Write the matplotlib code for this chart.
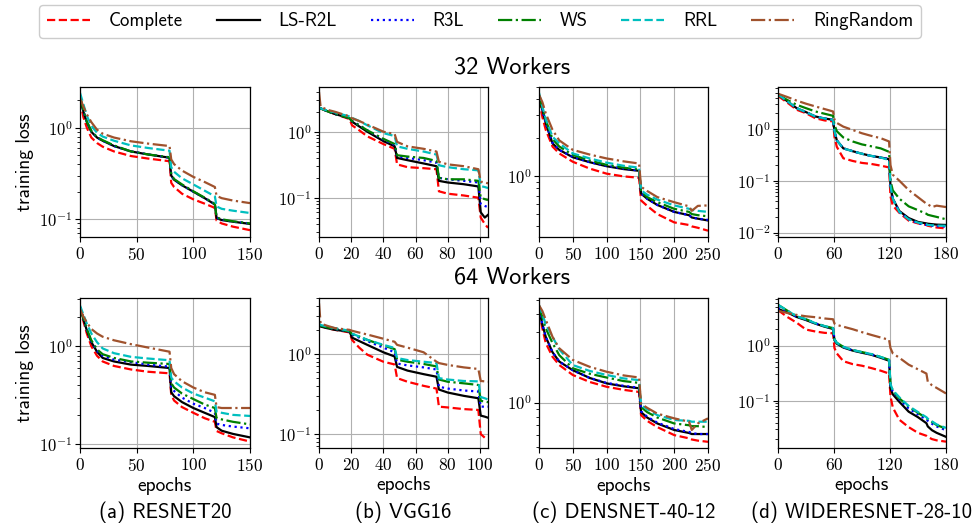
import math
import matplotlib
matplotlib.use("Agg")
import matplotlib.pyplot as plt
from matplotlib.ticker import FuncFormatter, NullFormatter, LogLocator, FixedLocator

plt.rcParams['font.family'] = ['cmss10', 'DejaVu Sans']
plt.rcParams['mathtext.fontset'] = 'cm'
plt.rcParams['axes.unicode_minus'] = True

METHODS = ["Complete", "LS-R2L", "R3L", "WS", "RRL", "RingRandom"]
COLORS = ["#ff0000", "#000000", "#0000ff", "#008000", "#00bfbf", "#a0522d"]
STYLES = ["--", "-", ":", "-.", "--", "-."]
CAPTIONS = ["(a) RESNET20", "(b) VGG16", "(c) DENSNET-40-12", "(d) WIDERESNET-28-10"]
ROW_TITLES = ["32 Workers", "64 Workers"]

# ---------------- RESNET20 ----------------
EP_RN = [0, 3, 6, 10, 15, 20, 30, 45, 60, 79, 80.5, 83, 90, 100, 110, 119, 120.5, 125, 135, 150]
RN_32_COMPLETE = [2.0, 1.3, 1.0, 0.78, 0.68, 0.62, 0.55, 0.49, 0.46, 0.43, 0.25, 0.225, 0.19, 0.165, 0.148, 0.133, 0.097, 0.09, 0.083, 0.076]
RN_32_LSR2L = [2.2, 1.5, 1.15, 0.9, 0.78, 0.72, 0.63, 0.55, 0.51, 0.47, 0.30, 0.27, 0.235, 0.2, 0.17, 0.145, 0.103, 0.098, 0.094, 0.089]
RN_32_R3L = [2.2, 1.5, 1.16, 0.91, 0.78, 0.72, 0.63, 0.55, 0.51, 0.47, 0.30, 0.27, 0.236, 0.2, 0.17, 0.146, 0.104, 0.099, 0.094, 0.09]
RN_32_WS = [2.2, 1.52, 1.17, 0.92, 0.79, 0.73, 0.64, 0.55, 0.51, 0.475, 0.31, 0.275, 0.24, 0.202, 0.172, 0.147, 0.105, 0.1, 0.095, 0.09]
RN_32_RRL = [2.4, 1.8, 1.35, 1.05, 0.88, 0.8, 0.72, 0.64, 0.6, 0.56, 0.37, 0.33, 0.28, 0.24, 0.205, 0.178, 0.138, 0.13, 0.124, 0.117]
RN_32_RINGRANDOM = [2.1, 1.7, 1.4, 1.15, 0.95, 0.86, 0.78, 0.71, 0.67, 0.63, 0.45, 0.40, 0.34, 0.29, 0.255, 0.225, 0.18, 0.17, 0.16, 0.15]

RN_64_COMPLETE = [2.5, 1.8, 1.35, 1.0, 0.8, 0.7, 0.63, 0.58, 0.55, 0.53, 0.32, 0.28, 0.24, 0.21, 0.185, 0.17, 0.137, 0.13, 0.118, 0.107]
RN_64_LSR2L = [2.5, 1.9, 1.45, 1.1, 0.88, 0.76, 0.7, 0.65, 0.63, 0.6, 0.34, 0.31, 0.27, 0.235, 0.21, 0.19, 0.15, 0.138, 0.128, 0.118]
RN_64_R3L = [2.5, 1.9, 1.47, 1.12, 0.9, 0.8, 0.73, 0.69, 0.65, 0.62, 0.38, 0.35, 0.3, 0.26, 0.235, 0.21, 0.163, 0.158, 0.152, 0.146]
RN_64_WS = [2.5, 1.92, 1.5, 1.15, 0.93, 0.83, 0.76, 0.7, 0.68, 0.66, 0.42, 0.38, 0.33, 0.29, 0.255, 0.235, 0.185, 0.18, 0.17, 0.16]
RN_64_RRL = [2.6, 2.1, 1.7, 1.35, 1.1, 0.95, 0.85, 0.78, 0.75, 0.72, 0.48, 0.44, 0.38, 0.33, 0.3, 0.275, 0.215, 0.21, 0.2, 0.195]
RN_64_RINGRANDOM = [2.4, 2.0, 1.75, 1.5, 1.35, 1.25, 1.15, 1.05, 0.97, 0.88, 0.6, 0.52, 0.44, 0.38, 0.34, 0.32, 0.24, 0.235, 0.235, 0.235]

# ---------------- VGG16 ----------------
EP_VGG = [0, 1, 5, 10, 19, 20.5, 25, 30, 40, 47, 48.5, 55, 65, 73, 74.5, 80, 90, 99, 100.5, 103, 105]
VGG_32_COMPLETE = [2.3, 2.25, 2.05, 1.85, 1.55, 1.25, 1.05, 0.85, 0.65, 0.55, 0.32, 0.29, 0.28, 0.27, 0.125, 0.115, 0.108, 0.1, 0.05, 0.04, 0.035]
VGG_32_LSR2L = [2.3, 2.25, 2.05, 1.85, 1.6, 1.42, 1.2, 1.0, 0.72, 0.6, 0.4, 0.37, 0.33, 0.3, 0.18, 0.17, 0.16, 0.148, 0.06, 0.05, 0.055]
VGG_32_R3L = [2.3, 2.25, 2.05, 1.85, 1.6, 1.45, 1.25, 1.05, 0.76, 0.63, 0.42, 0.4, 0.37, 0.34, 0.2, 0.19, 0.18, 0.17, 0.08, 0.075, 0.072]
VGG_32_WS = [2.3, 2.25, 2.05, 1.85, 1.6, 1.45, 1.25, 1.05, 0.78, 0.65, 0.44, 0.42, 0.4, 0.36, 0.2, 0.19, 0.19, 0.18, 0.1, 0.095, 0.092]
VGG_32_RRL = [2.3, 2.25, 2.1, 1.95, 1.7, 1.62, 1.45, 1.25, 0.95, 0.86, 0.6, 0.55, 0.5, 0.45, 0.31, 0.29, 0.27, 0.26, 0.15, 0.145, 0.14]
VGG_32_RINGRANDOM = [4.0, 2.4, 2.15, 2.0, 1.7, 1.6, 1.45, 1.28, 1.0, 0.92, 0.7, 0.6, 0.55, 0.5, 0.35, 0.32, 0.3, 0.27, 0.175, 0.17, 0.165]

VGG_64_COMPLETE = [2.3, 2.25, 2.1, 2.0, 1.86, 1.5, 1.2, 0.98, 0.8, 0.74, 0.5, 0.45, 0.4, 0.37, 0.22, 0.215, 0.205, 0.2, 0.1, 0.09, 0.087]
VGG_64_LSR2L = [2.3, 2.2, 2.1, 2.0, 1.9, 1.6, 1.45, 1.3, 1.05, 0.93, 0.69, 0.62, 0.56, 0.52, 0.36, 0.33, 0.3, 0.28, 0.17, 0.165, 0.16]
VGG_64_R3L = [2.3, 2.25, 2.15, 2.05, 1.9, 1.75, 1.6, 1.45, 1.2, 1.05, 0.76, 0.72, 0.68, 0.64, 0.39, 0.37, 0.35, 0.34, 0.22, 0.22, 0.22]
VGG_64_WS = [2.3, 2.25, 2.15, 2.05, 1.92, 1.78, 1.65, 1.5, 1.28, 1.15, 0.85, 0.8, 0.75, 0.7, 0.48, 0.45, 0.43, 0.41, 0.26, 0.255, 0.25]
VGG_64_RRL = [2.4, 2.3, 2.2, 2.1, 1.95, 1.8, 1.65, 1.5, 1.3, 1.19, 0.89, 0.84, 0.8, 0.77, 0.5, 0.48, 0.46, 0.455, 0.29, 0.28, 0.27]
VGG_64_RINGRANDOM = [4.3, 2.4, 2.25, 2.1, 2.0, 1.95, 1.85, 1.75, 1.55, 1.42, 1.3, 1.2, 1.05, 0.8, 0.77, 0.73, 0.68, 0.65, 0.46, 0.455, 0.45]

# ---------------- DENSENET-40-12 ----------------
EP_DN = [0, 5, 10, 20, 30, 50, 75, 100, 125, 148, 151, 160, 175, 200, 222, 226, 235, 250]
DN_32_COMPLETE = [3.97, 2.9, 2.3, 1.7, 1.5, 1.29, 1.14, 1.04, 0.99, 0.965, 0.64, 0.58, 0.5, 0.43, 0.41, 0.4, 0.39, 0.37]
DN_32_LSR2L = [4.2, 3.3, 2.6, 1.8, 1.6, 1.4, 1.28, 1.19, 1.13, 1.095, 0.725, 0.66, 0.59, 0.52, 0.49, 0.47, 0.46, 0.445]
DN_32_R3L = [4.2, 3.3, 2.6, 1.82, 1.6, 1.41, 1.28, 1.2, 1.14, 1.1, 0.73, 0.66, 0.59, 0.52, 0.49, 0.47, 0.46, 0.45]
DN_32_WS = [4.3, 3.4, 2.75, 1.95, 1.7, 1.46, 1.32, 1.22, 1.16, 1.12, 0.75, 0.68, 0.62, 0.55, 0.52, 0.5, 0.49, 0.48]
DN_32_RRL = [4.5, 3.5, 2.8, 2.03, 1.8, 1.5, 1.37, 1.27, 1.2, 1.16, 0.77, 0.71, 0.65, 0.585, 0.55, 0.54, 0.53, 0.52]
DN_32_RINGRANDOM = [4.35, 3.8, 3.1, 2.3, 1.9, 1.6, 1.47, 1.37, 1.3, 1.25, 0.82, 0.76, 0.68, 0.62, 0.575, 0.53, 0.58, 0.585]

DN_64_COMPLETE = [4.2, 3.2, 2.54, 2.05, 1.8, 1.54, 1.38, 1.28, 1.22, 1.18, 0.82, 0.75, 0.68, 0.6, 0.57, 0.56, 0.55, 0.54]
DN_64_LSR2L = [4.3, 3.4, 2.8, 2.2, 1.9, 1.66, 1.47, 1.35, 1.29, 1.25, 0.86, 0.79, 0.72, 0.65, 0.62, 0.61, 0.61, 0.61]
DN_64_R3L = [4.3, 3.4, 2.8, 2.2, 1.9, 1.66, 1.47, 1.36, 1.3, 1.26, 0.87, 0.8, 0.73, 0.66, 0.63, 0.62, 0.61, 0.61]
DN_64_WS = [4.5, 3.8, 3.2, 2.54, 2.1, 1.71, 1.57, 1.48, 1.4, 1.36, 0.93, 0.86, 0.79, 0.72, 0.7, 0.69, 0.69, 0.68]
DN_64_RRL = [4.6, 4.0, 3.4, 2.8, 2.3, 1.8, 1.64, 1.54, 1.46, 1.42, 0.96, 0.9, 0.82, 0.76, 0.75, 0.74, 0.74, 0.74]
DN_64_RINGRANDOM = [4.6, 4.2, 3.66, 2.8, 2.34, 1.95, 1.75, 1.62, 1.53, 1.48, 0.98, 0.92, 0.84, 0.78, 0.74, 0.65, 0.72, 0.78]

# ---------------- WIDERESNET-28-10 ----------------
EP_WR = [0, 10, 20, 30, 40, 50, 59, 60.5, 63, 70, 80, 90, 100, 110, 119, 120.5, 123, 130, 140, 150, 159, 160.5, 165, 170, 180]
WR_32_COMPLETE = [4.3, 3.2, 2.33, 2.0, 1.6, 1.45, 1.39, 0.7, 0.45, 0.27, 0.24, 0.22, 0.21, 0.195, 0.18, 0.05, 0.033, 0.024, 0.017, 0.015, 0.014, 0.0135, 0.013, 0.0125, 0.012]
WR_32_LSR2L = [4.6, 3.4, 2.5, 2.1, 1.73, 1.58, 1.49, 0.9, 0.6, 0.42, 0.37, 0.33, 0.3, 0.28, 0.26, 0.08, 0.045, 0.026, 0.019, 0.016, 0.015, 0.0148, 0.0145, 0.0142, 0.014]
WR_32_R3L = [4.6, 3.4, 2.5, 2.1, 1.73, 1.58, 1.49, 0.9, 0.6, 0.42, 0.37, 0.33, 0.3, 0.28, 0.26, 0.08, 0.045, 0.025, 0.018, 0.015, 0.014, 0.0138, 0.0135, 0.0133, 0.013]
WR_32_WS = [4.5, 3.6, 2.9, 2.5, 2.16, 1.95, 1.78, 1.2, 0.9, 0.68, 0.57, 0.5, 0.46, 0.42, 0.36, 0.1, 0.065, 0.045, 0.032, 0.027, 0.023, 0.022, 0.021, 0.02, 0.018]
WR_32_RRL = [4.6, 3.4, 2.5, 2.1, 1.73, 1.58, 1.49, 0.9, 0.6, 0.42, 0.37, 0.33, 0.3, 0.28, 0.25, 0.08, 0.045, 0.025, 0.018, 0.0155, 0.0145, 0.014, 0.0138, 0.0136, 0.0135]
WR_32_RINGRANDOM = [4.75, 4.1, 3.5, 3.05, 2.7, 2.4, 2.16, 1.5, 1.3, 1.1, 0.95, 0.82, 0.73, 0.66, 0.57, 0.2, 0.13, 0.1, 0.066, 0.048, 0.036, 0.035, 0.031, 0.033, 0.031]

WR_64_COMPLETE = [4.4, 3.3, 2.6, 1.95, 1.8, 1.7, 1.67, 0.9, 0.72, 0.52, 0.46, 0.43, 0.39, 0.35, 0.31, 0.12, 0.075, 0.045, 0.033, 0.026, 0.023, 0.022, 0.02, 0.019, 0.018]
WR_64_LSR2L = [4.6, 4.0, 3.3, 2.9, 2.5, 2.2, 2.0, 1.25, 1.08, 0.92, 0.81, 0.74, 0.68, 0.6, 0.53, 0.17, 0.13, 0.095, 0.063, 0.05, 0.039, 0.034, 0.029, 0.026, 0.022]
WR_64_R3L = [4.8, 4.1, 3.35, 2.95, 2.52, 2.22, 2.05, 1.28, 1.1, 0.94, 0.82, 0.75, 0.69, 0.61, 0.54, 0.19, 0.145, 0.105, 0.072, 0.056, 0.045, 0.043, 0.038, 0.034, 0.029]
WR_64_WS = [5.5, 4.3, 3.4, 3.0, 2.55, 2.25, 2.07, 1.3, 1.12, 0.95, 0.83, 0.76, 0.7, 0.62, 0.55, 0.2, 0.15, 0.11, 0.078, 0.06, 0.048, 0.046, 0.041, 0.036, 0.031]
WR_64_RRL = [5.5, 4.3, 3.4, 3.0, 2.55, 2.25, 2.07, 1.3, 1.12, 0.95, 0.83, 0.76, 0.7, 0.62, 0.55, 0.2, 0.155, 0.115, 0.08, 0.062, 0.05, 0.047, 0.042, 0.037, 0.032]
WR_64_RINGRANDOM = [4.3, 3.9, 3.6, 3.4, 3.27, 3.1, 3.0, 2.5, 2.37, 2.2, 1.98, 1.75, 1.56, 1.4, 1.27, 0.9, 0.72, 0.6, 0.45, 0.37, 0.31, 0.22, 0.19, 0.17, 0.135]

# axis settings per column
XLIMS = [(0, 150), (0, 105), (0, 250), (0, 180)]
XTICKS = [[0, 50, 100, 150], [0, 20, 40, 60, 80, 100], [0, 50, 100, 150, 200, 250], [0, 60, 120, 180]]
YLIMS_32 = [(0.064, 2.78), (0.0254, 4.75), (0.33, 5.0), (0.0082, 6.4)]
YLIMS_64 = [(0.092, 3.1), (0.067, 5.0), (0.49, 5.15), (0.0138, 7.3)]

EPOCHS = [EP_RN, EP_VGG, EP_DN, EP_WR]
SERIES_32 = [
    [RN_32_COMPLETE, RN_32_LSR2L, RN_32_R3L, RN_32_WS, RN_32_RRL, RN_32_RINGRANDOM],
    [VGG_32_COMPLETE, VGG_32_LSR2L, VGG_32_R3L, VGG_32_WS, VGG_32_RRL, VGG_32_RINGRANDOM],
    [DN_32_COMPLETE, DN_32_LSR2L, DN_32_R3L, DN_32_WS, DN_32_RRL, DN_32_RINGRANDOM],
    [WR_32_COMPLETE, WR_32_LSR2L, WR_32_R3L, WR_32_WS, WR_32_RRL, WR_32_RINGRANDOM],
]
SERIES_64 = [
    [RN_64_COMPLETE, RN_64_LSR2L, RN_64_R3L, RN_64_WS, RN_64_RRL, RN_64_RINGRANDOM],
    [VGG_64_COMPLETE, VGG_64_LSR2L, VGG_64_R3L, VGG_64_WS, VGG_64_RRL, VGG_64_RINGRANDOM],
    [DN_64_COMPLETE, DN_64_LSR2L, DN_64_R3L, DN_64_WS, DN_64_RRL, DN_64_RINGRANDOM],
    [WR_64_COMPLETE, WR_64_LSR2L, WR_64_R3L, WR_64_WS, WR_64_RRL, WR_64_RINGRANDOM],
]

W, H = 977, 529
fig = plt.figure(figsize=(W / 100, H / 100), dpi=100)

col_px = [(80, 250), (319, 488), (539, 708), (778, 946)]
row_px = [(87, 237), (298, 448)]

xfmt = FuncFormatter(lambda v, p: r'$%g$' % v)
yfmt = FuncFormatter(lambda v, p: r'$10^{%d}$' % int(round(math.log10(v))))

handles = None
for r, (series_row, ylims) in enumerate([(SERIES_32, YLIMS_32), (SERIES_64, YLIMS_64)]):
    for c in range(4):
        x0, x1 = col_px[c]
        y0, y1 = row_px[r]
        ax = fig.add_axes([x0 / W, 1 - y1 / H, (x1 - x0) / W, (y1 - y0) / H])
        lines = []
        for k in range(6):
            ln, = ax.plot(EPOCHS[c], series_row[c][k], color=COLORS[k], ls=STYLES[k],
                          lw=1.6, label=METHODS[k])
            lines.append(ln)
        if handles is None:
            handles = lines
        ax.set_yscale('log')
        ax.set_xlim(*XLIMS[c])
        ax.set_ylim(*ylims[c])
        ax.xaxis.set_major_locator(FixedLocator(XTICKS[c]))
        ax.xaxis.set_major_formatter(xfmt)
        ax.yaxis.set_major_locator(LogLocator(base=10, numticks=10))
        ax.yaxis.set_major_formatter(yfmt)
        ax.yaxis.set_minor_locator(LogLocator(base=10, subs=range(2, 10), numticks=20))
        ax.yaxis.set_minor_formatter(NullFormatter())
        ax.grid(True, which='major', color='#b0b0b0', lw=0.8)
        ax.tick_params(axis='x', labelsize=12.5, pad=3)
        ax.tick_params(axis='y', which='major', labelsize=12, pad=2)
        for sp in ax.spines.values():
            sp.set_linewidth(0.9)
        if c == 0:
            ax.set_ylabel('training loss', fontsize=14, labelpad=4)
        if r == 1:
            ax.set_xlabel('epochs', fontsize=14, labelpad=2)
            fig.text((x0 + x1) / 2 / W, 1 - 512 / H, CAPTIONS[c], ha='center', va='center', fontsize=15)

fig.text(512 / W, 1 - 68 / H, ROW_TITLES[0], ha='center', va='center', fontsize=17.5)
fig.text(512 / W, 1 - 277 / H, ROW_TITLES[1], ha='center', va='center', fontsize=17.5)

fig.legend(handles, METHODS, loc='upper center', bbox_to_anchor=(480 / W, 1 - 1 / H), ncol=6,
           fontsize=13.5, frameon=True, fancybox=True, edgecolor='#cccccc', framealpha=1,
           handlelength=2.3, handletextpad=1.0, columnspacing=1.8, borderpad=0.4, borderaxespad=0.2)

fig.savefig('out.png', dpi=100)
